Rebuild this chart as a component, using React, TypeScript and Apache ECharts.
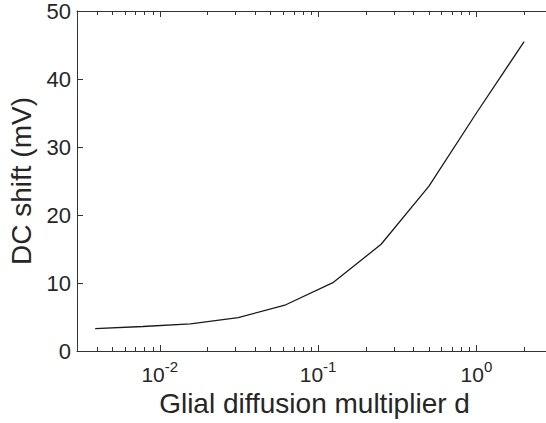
import React, { useEffect, useRef } from "react";
import * as echarts from "echarts";

const dValues = [0.00390625, 0.0078125, 0.015625, 0.03125, 0.0625, 0.125, 0.25, 0.5, 1, 2];
const dcShift = [3.3, 3.6, 4.0, 4.9, 6.8, 10.1, 15.7, 24.2, 35.0, 45.5];
const minorTicks = [
  0.004, 0.005, 0.006, 0.007, 0.008, 0.009,
  0.02, 0.03, 0.04, 0.05, 0.06, 0.07, 0.08, 0.09,
  0.2, 0.3, 0.4, 0.5, 0.6, 0.7, 0.8, 0.9,
  2, 3,
];
const xTitle = "Glial diffusion multiplier d";
const yTitle = "DC shift (mV)";

const FONT = "'Liberation Sans', Arial, Helvetica, sans-serif";
const TEXT = "#262626";
const AXIS = "#333333";

export default function App() {
  const ref = useRef<HTMLDivElement>(null);
  useEffect(() => {
    if (!ref.current) return;
    const chart = echarts.init(ref.current, undefined, { renderer: "svg" });
    const xLabelFmt = (v: number) => {
      const l = Math.log10(v);
      const e = Math.round(l);
      if (Math.abs(l - e) > 1e-6) return "";
      return `{b|10}{s|${e}}`;
    };
    const axisLine = { show: true, onZero: false, lineStyle: { color: AXIS, width: 1 } };
    const axisTick = { show: true, inside: true, length: 6, lineStyle: { color: AXIS } };
    const option: any = {
      animation: false,
      backgroundColor: "#ffffff",
      textStyle: { fontFamily: FONT },
      grid: { left: 77, right: -6, top: 11, bottom: 72, containLabel: false, outerBoundsMode: "none" },
      xAxis: [
        {
          type: "log",
          logBase: 10,
          min: 0.003,
          max: 3,
          position: "bottom",
          name: xTitle,
          nameLocation: "middle",
          nameGap: 30,
          nameTextStyle: { fontSize: 28, color: TEXT, fontFamily: FONT },
          axisLine,
          axisTick,
          splitLine: { show: false },
          axisLabel: {
            margin: 8,
            formatter: xLabelFmt,
            showMinLabel: false,
            showMaxLabel: false,
            rich: {
              b: { fontSize: 21, color: TEXT, fontFamily: FONT, verticalAlign: "bottom", lineHeight: 26 },
              s: { fontSize: 15, color: TEXT, fontFamily: FONT, verticalAlign: "top", lineHeight: 15 },
            },
          },
        },
        {
          type: "log",
          logBase: 10,
          min: 0.003,
          max: 3,
          position: "top",
          axisLine,
          axisTick,
          axisLabel: { show: false },
          splitLine: { show: false },
        },
      ],
      yAxis: [
        {
          type: "value",
          min: 0,
          max: 50,
          interval: 10,
          position: "left",
          name: yTitle,
          nameLocation: "middle",
          nameGap: 39,
          nameRotate: 90,
          nameTextStyle: { fontSize: 28, color: TEXT, fontFamily: FONT },
          axisLine,
          axisTick,
          axisLabel: { margin: 6, fontSize: 22, color: TEXT, fontFamily: FONT },
          splitLine: { show: false },
        },
        {
          type: "value",
          min: 0,
          max: 50,
          interval: 10,
          position: "right",
          axisLine,
          axisTick,
          axisLabel: { show: false },
          splitLine: { show: false },
        },
      ],
      series: [
        {
          type: "custom",
          xAxisIndex: 0,
          yAxisIndex: 0,
          silent: true,
          clip: false,
          data: minorTicks.map((v) => [v, 0]),
          renderItem: (params: any, api: any) => {
            const px = api.coord([api.value(0), 0])[0];
            const x = Math.round(px) + 0.5;
            const cs = params.coordSys;
            const yb = cs.y + cs.height;
            return {
              type: "group",
              children: [
                { type: "line", shape: { x1: x, y1: yb, x2: x, y2: yb - 4 }, style: { stroke: AXIS, lineWidth: 1 } },
                { type: "line", shape: { x1: x, y1: cs.y, x2: x, y2: cs.y + 4 }, style: { stroke: AXIS, lineWidth: 1 } },
              ],
            };
          },
        },
        {
          type: "line",
          xAxisIndex: 0,
          yAxisIndex: 0,
          data: dValues.map((d, i) => [d, dcShift[i]]),
          showSymbol: false,
          symbol: "none",
          lineStyle: { color: "#1a1a1a", width: 1.3 },
        },
      ],
    };
    chart.setOption(option);
    return () => chart.dispose();
  }, []);
  return (
    <div style={{ position: "fixed", left: 0, top: 0, width: 546, height: 423, overflow: "hidden", background: "#fff" }}>
      <div ref={ref} style={{ width: 546, height: 423 }} />
    </div>
  );
}
